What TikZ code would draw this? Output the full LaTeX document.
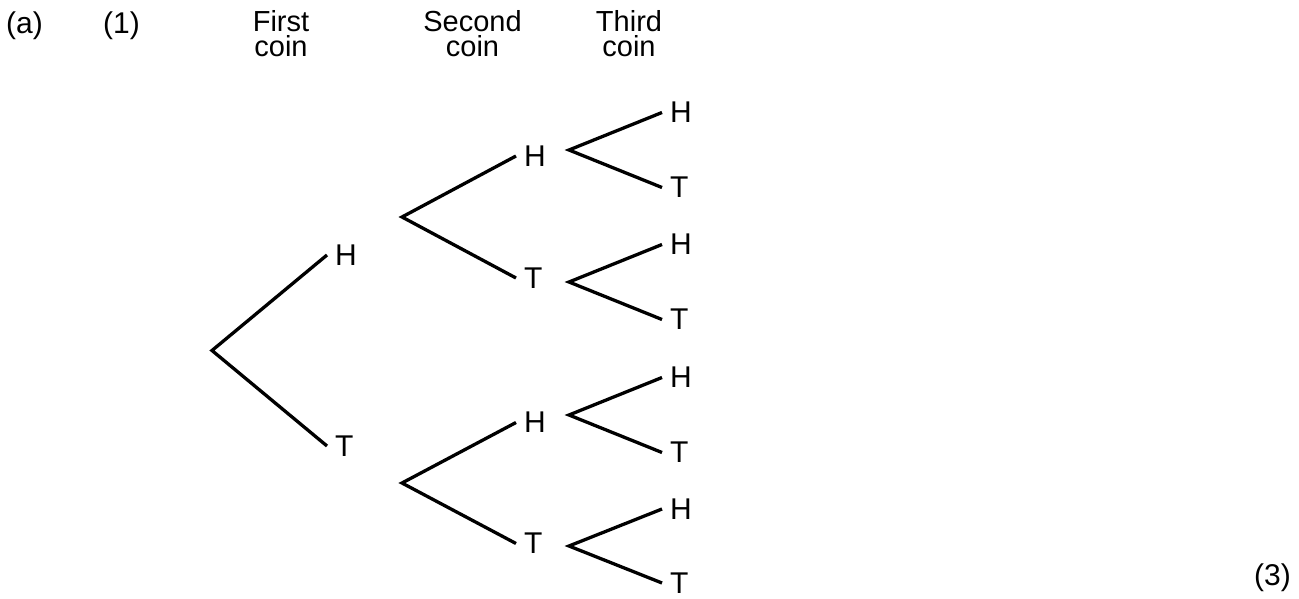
\documentclass[tikz,border=0pt]{standalone}
\usepackage{fontspec}
\setmainfont{Liberation Sans}
\begin{document}
\begin{tikzpicture}[x=1pt,y=-1pt,
  branch/.style={line width=3.3pt, line join=miter},
  lbl/.style={anchor=west, inner xsep=8pt, inner ysep=0pt, font=\fontsize{30}{30}\selectfont},
  head/.style={anchor=south, inner sep=0pt, align=center, font=\fontsize{29}{25}\selectfont},
  tag/.style={inner sep=0pt, font=\fontsize{30}{30}\selectfont}]
\useasboundingbox (0,0) rectangle (1299,599);
% labels
\node[tag, anchor=base west] (qa) at (6,33.5) {(a)};
\node[tag, anchor=base west] (q1) at (103,33.5) {(1)};
\node[tag, anchor=base east] (q3) at (1291,585) {(3)};
% headers
\node[head] (h1) at (281,57) {First\\coin};
\node[head] (h2) at (472.5,57) {Second\\coin};
\node[head] (h3) at (629,57) {Third\\coin};
% vertices
\coordinate (r) at (212,350.5);
\coordinate (A) at (402,217);
\coordinate (B) at (402,483);
\coordinate (c1) at (569,150);
\coordinate (c2) at (569,282);
\coordinate (c3) at (569,415);
\coordinate (c4) at (569,546);
% level 1
\node[lbl] (H1) at (327,255) {H};
\node[lbl] (T1) at (327,446) {T};
% level 2
\node[lbl] (AH) at (516,156) {H};
\node[lbl] (AT) at (516,278) {T};
\node[lbl] (BH) at (516,422.5) {H};
\node[lbl] (BT) at (516,543.5) {T};
% level 3
\node[lbl] (c1H) at (662,112.5) {H};
\node[lbl] (c1T) at (662,187.5) {T};
\node[lbl] (c2H) at (662,244.5) {H};
\node[lbl] (c2T) at (662,319.5) {T};
\node[lbl] (c3H) at (662,377.5) {H};
\node[lbl] (c3T) at (662,452.5) {T};
\node[lbl] (c4H) at (662,509) {H};
\node[lbl] (c4T) at (662,583) {T};
% branches
\draw[branch] (H1.west) -- (r) -- (T1.west);
\draw[branch] (AH.west) -- (A) -- (AT.west);
\draw[branch] (BH.west) -- (B) -- (BT.west);
\draw[branch] (c1H.west) -- (c1) -- (c1T.west);
\draw[branch] (c2H.west) -- (c2) -- (c2T.west);
\draw[branch] (c3H.west) -- (c3) -- (c3T.west);
\draw[branch] (c4H.west) -- (c4) -- (c4T.west);
\end{tikzpicture}
\end{document}
